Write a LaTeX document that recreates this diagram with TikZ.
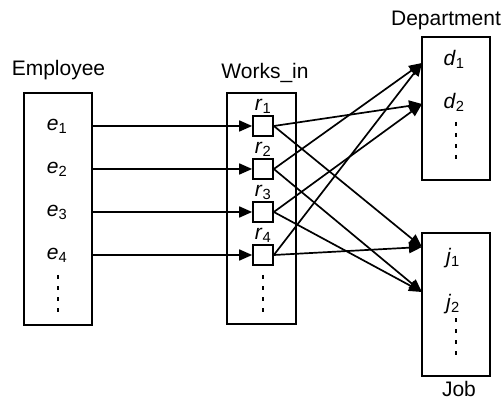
\documentclass[tikz,border=0pt]{standalone}
\usepackage{fontspec}
\setmainfont{Liberation Sans}
\usetikzlibrary{arrows.meta,positioning}

\newcommand{\elem}[2]{\textit{#1}\textsubscript{#2}}

\begin{document}
\begin{tikzpicture}[x=1pt,y=-1pt,line width=1.7pt,
    >={Triangle[length=13pt,width=11pt]},
    font=\fontsize{21}{25}\selectfont,
    set/.style={draw,inner sep=0pt,minimum width=68pt},
    relbox/.style={draw,inner sep=0pt,minimum size=20pt},
    title/.style={inner sep=0pt},
    vdots/.style={dash pattern=on 4pt off 7pt,line width=2.2pt}]
   \useasboundingbox (0,0) rectangle (504,401);

   % entity sets and relationship set
   \node[set,minimum height=232pt] (Employee) at (58,209) {};
   \node[set,minimum width=69pt,minimum height=231pt] (Works) at (261.5,208.5) {};
   \node[set,minimum height=143pt] (Department) at (456,108.5) {};
   \node[set,minimum height=143pt] (Job) at (456,304.5) {};

   \node[title] (EmpLabel) at (58.5,70) {Employee};
   \node[title] (WorksLabel) at (265,73) {Works\_in};
   \node[title] (DeptLabel) at (446,20) {Department};
   \node[title] (JobLabel) at (459,389) {Job};

   % members
   \foreach \i/\y in {1/126,2/169,3/212,4/255} {
     \node (e\i) at (57,\y) {\elem{e}{\i}};
     \node[relbox] (r\i) at (263,\y) {};
     \node[inner sep=0pt,above=1pt of r\i] (rl\i) {\elem{r}{\i}};
   }
   \node (d1) at (454,59) {\elem{d}{1}};
   \node (d2) at (454,102) {\elem{d}{2}};
   \node (j1) at (453,258) {\elem{j}{1}};
   \node (j2) at (453,304) {\elem{j}{2}};

   \coordinate (d1in) at (422,63);
   \coordinate (d2in) at (422,104);
   \coordinate (j1in) at (422,247);
   \coordinate (j2in) at (422,292);

   % dots
   \draw[vdots] (58,275) -- (58,315);
   \draw[vdots] (263,275) -- (263,315);
   \draw[vdots] (456,122) -- (456,160);
   \draw[vdots] (456,318) -- (456,356);

   % connections
   \foreach \i in {1,...,4}
     \draw[->] (Employee.east |- r\i) -- (r\i.west);
   \path[->]
     (r1.east) edge (d2in)
               edge (j1in)
     (r2.east) edge (d1in)
               edge (j2in)
     (r3.east) edge (d2in)
               edge (j2in)
     (r4.east) edge (d1in)
               edge (j1in);
\end{tikzpicture}
\end{document}
